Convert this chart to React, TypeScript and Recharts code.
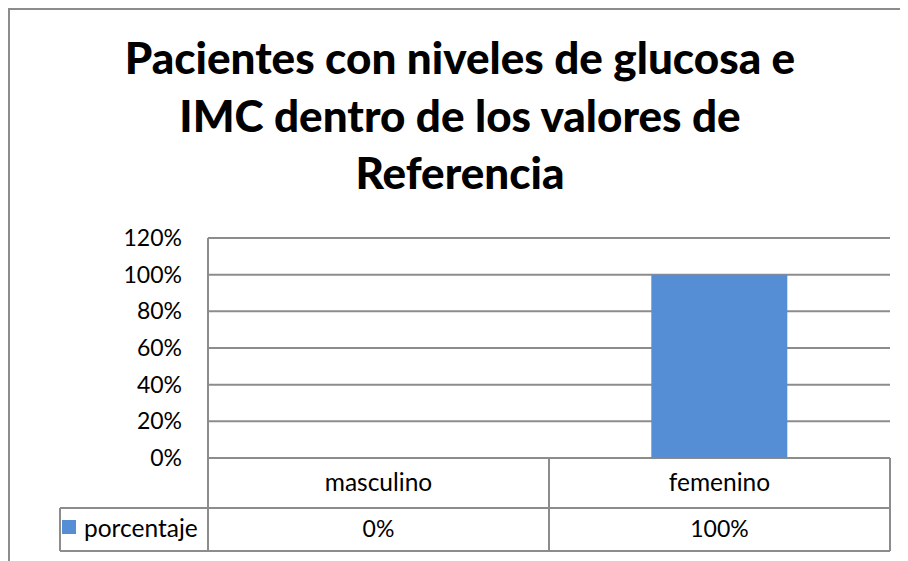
import React from "react";
import { BarChart, Bar, XAxis, YAxis, CartesianGrid } from "recharts";

const categories = ["masculino", "femenino"];
const porcentaje = [0, 1];
const yTicks = [0, 0.2, 0.4, 0.6, 0.8, 1, 1.2];
const seriesName = "porcentaje";
const titleLines = [
  "Pacientes con niveles de glucosa e",
  "IMC dentro de los valores de",
  "Referencia",
];

const data = categories.map((c, i) => ({ name: c, value: porcentaje[i] }));

const FONT = "Lato, 'Open Sans', sans-serif";
const LINE = "#8c8c8c";
const BAR = "#558ed5";
const W = 900;
const H = 553;
const MARGIN = { top: 230, right: 18, bottom: 10, left: 0 };
const Y_W = 200;
const PLOT_W = W - MARGIN.left - MARGIN.right - Y_W;
const ROW1_H = 50;
const ROW2_H = 43;
const HEADER_LEFT = 52;
const TABLE_FS = 24.5;

const pct = (v: number) => `${Math.round(v * 100)}%`;

function TableTick(props: any) {
  const { x, y, payload, index, width, visibleTicksCount } = props;
  const band =
    typeof width === "number" && visibleTicksCount
      ? width / visibleTicksCount
      : PLOT_W / categories.length;
  const i = payload?.index ?? index;
  const left = x - band / 2;
  const right = x + band / 2;
  const r1 = y + ROW1_H;
  const r2 = r1 + ROW2_H;
  const first = i === 0;
  const hx = first ? HEADER_LEFT : left;
  return (
    <g>
      <line x1={right} y1={y} x2={right} y2={r2} stroke={LINE} strokeWidth={2} />
      {first && <line x1={left} y1={y} x2={left} y2={r2} stroke={LINE} strokeWidth={2} />}
      <line x1={hx} y1={r1} x2={right} y2={r1} stroke={LINE} strokeWidth={2} />
      <line x1={hx} y1={r2} x2={right} y2={r2} stroke={LINE} strokeWidth={2} />
      {first && (
        <g>
          <line x1={HEADER_LEFT} y1={r1} x2={HEADER_LEFT} y2={r2} stroke={LINE} strokeWidth={2} />
          <rect x={HEADER_LEFT + 2} y={r1 + 12} width={14} height={14} fill={BAR} />
          <text x={HEADER_LEFT + 24} y={r1 + 29} fontSize={TABLE_FS} fill="#000" fontFamily={FONT}>
            {seriesName}
          </text>
        </g>
      )}
      <text x={x} y={y + 33} textAnchor="middle" fontSize={TABLE_FS} fill="#000" fontFamily={FONT}>
        {payload.value}
      </text>
      <text x={x} y={r1 + 29} textAnchor="middle" fontSize={23} fill="#000" fontFamily={FONT}>
        {pct(porcentaje[i])}
      </text>
    </g>
  );
}

export default function App() {
  return (
    <div
      style={{
        position: "relative",
        width: W,
        height: H,
        borderTop: `2px solid ${LINE}`,
        borderLeft: `2px solid ${LINE}`,
        boxSizing: "border-box",
        background: "#fff",
      }}
    >
      <div
        style={{
          position: "absolute",
          left: -8,
          top: 19,
          width: 916,
          textAlign: "center",
          fontFamily: FONT,
          fontWeight: 900,
          fontSize: 44,
          lineHeight: "57.5px",
          color: "#000",
        }}
      >
        {titleLines.map((t) => (
          <div key={t}>{t}</div>
        ))}
      </div>
      <div style={{ position: "absolute", left: -2, top: -2 }}>
        <BarChart width={W} height={H} data={data} margin={MARGIN} barCategoryGap="30%">
          <CartesianGrid vertical={false} stroke={LINE} strokeWidth={2} />
          <XAxis
            dataKey="name"
            interval={0}
            height={ROW1_H + ROW2_H}
            tickLine={false}
            axisLine={false}
            tickSize={0}
            tickMargin={0}
            tick={<TableTick />}
          />
          <YAxis
            width={Y_W}
            domain={[0, 1.2]}
            ticks={yTicks}
            tickFormatter={pct}
            tickLine={false}
            tickSize={0}
            tickMargin={26}
            axisLine={{ stroke: LINE, strokeWidth: 2 }}
            tick={{ fill: "#000", fontSize: 23, fontFamily: FONT }}
          />
          <Bar dataKey="value" fill={BAR} isAnimationActive={false} />
        </BarChart>
      </div>
    </div>
  );
}
